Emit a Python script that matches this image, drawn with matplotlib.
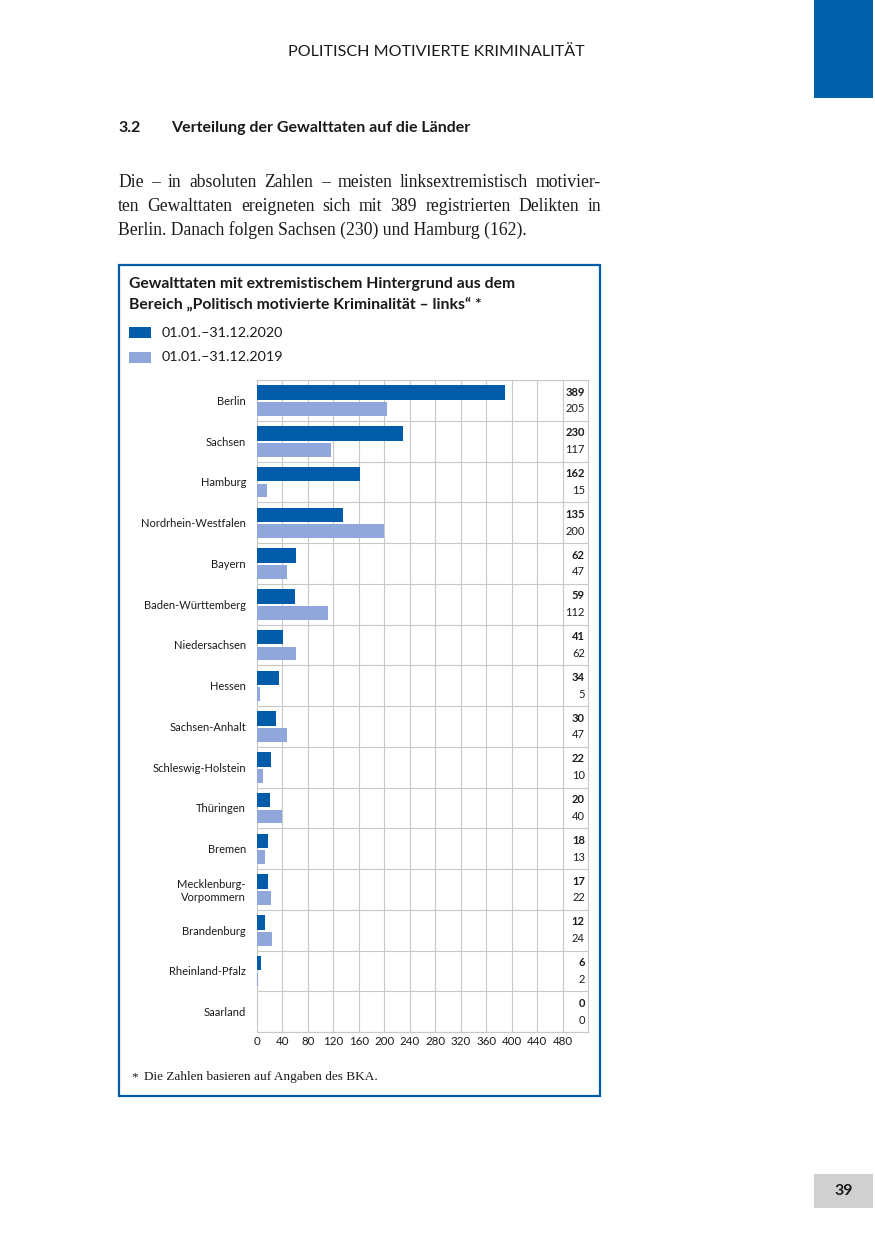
import numpy as np
import matplotlib
matplotlib.use("Agg")
import matplotlib.pyplot as plt
from matplotlib.patches import Rectangle

# data
laender = ["Berlin", "Sachsen", "Hamburg", "Nordrhein-Westfalen", "Bayern",
           "Baden-Württemberg", "Niedersachsen", "Hessen", "Sachsen-Anhalt",
           "Schleswig-Holstein", "Thüringen", "Bremen", "Mecklenburg-\nVorpommern",
           "Brandenburg", "Rheinland-Pfalz", "Saarland"]
werte_2020 = [389, 230, 162, 135, 62, 59, 41, 34, 30, 22, 20, 18, 17, 12, 6, 0]
werte_2019 = [205, 117, 15, 200, 47, 112, 62, 5, 47, 10, 40, 13, 22, 24, 2, 0]
x_ticks = list(range(0, 481, 40))
legende = ["01.01.–31.12.2020", "01.01.–31.12.2019"]

dunkel = "#005CA9"
hell = "#8FA7DA"
grau = "#c8c8c8"
sans = ["Lato", "DejaVu Sans"]
serif = ["Liberation Serif", "DejaVu Serif"]

W, H = 875, 1241
fig = plt.figure(figsize=(W / 100, H / 100), dpi=100)


def fx(x):
    return x / W


def fy(y):
    return 1 - y / H


def box(x0, y0, x1, y1, **kw):
    fig.patches.append(Rectangle((fx(x0), fy(y1)), fx(x1) - fx(x0), fy(y0) - fy(y1),
                                 transform=fig.transFigure, **kw))


# page decoration
box(814, 0, 873, 98, color="#0060AA", lw=0)
box(814, 1174, 873, 1208, color="#D0D0D0", lw=0)
fig.text(fx(843.5), fy(1191), "39", ha="center", va="center", fontsize=11.5,
         fontweight="bold", family=sans, color="#1a1a1a")

fig.text(fx(436), fy(52), "POLITISCH MOTIVIERTE KRIMINALITÄT", ha="center", va="center",
         fontsize=11.6, family=sans, color="#1a1a1a")
fig.text(fx(118), fy(128), "3.2", ha="left", va="center", fontsize=11.5,
         fontweight="bold", family=sans, color="#1a1a1a")
fig.text(fx(171), fy(128), "Verteilung der Gewalttaten auf die Länder", ha="left",
         va="center", fontsize=11.5, fontweight="bold", family=sans, color="#1a1a1a")

# justified paragraph
zeilen = ["Die – in absoluten Zahlen – meisten linksextremistisch motivier-",
          "ten Gewalttaten ereigneten sich mit 389 registrierten Delikten in",
          "Berlin. Danach folgen Sachsen (230) und Hamburg (162)."]
renderer = fig.canvas.get_renderer()
for k, zeile in enumerate(zeilen):
    y = fy(187 + 24 * k)
    if k == len(zeilen) - 1:
        fig.text(fx(118), y, zeile, ha="left", va="baseline", fontsize=12.7,
                 family=serif, color="#1a1a1a")
        continue
    woerter = zeile.split(" ")
    objs = [fig.text(0, y, w, ha="left", va="baseline", fontsize=12.7,
                     family=serif, color="#1a1a1a") for w in woerter]
    breiten = [o.get_window_extent(renderer).width for o in objs]
    luecke = (601 - 118 - sum(breiten)) / (len(woerter) - 1)
    x = 118
    for o, b in zip(objs, breiten):
        o.set_x(fx(x))
        x += b + luecke

# chart frame
box(119, 265, 600, 1096, fill=False, edgecolor=dunkel, lw=1.6)
fig.text(fx(129), fy(284), "Gewalttaten mit extremistischem Hintergrund aus dem",
         ha="left", va="center", fontsize=11.3, fontweight="bold", family=sans,
         color="#1a1a1a")
fig.text(fx(129), fy(305), "Bereich „Politisch motivierte Kriminalität – links“ *",
         ha="left", va="center", fontsize=11.3, fontweight="bold", family=sans,
         color="#1a1a1a")
box(129, 327, 151, 338, color=dunkel, lw=0)
box(129, 352, 151, 363, color=hell, lw=0)
fig.text(fx(162), fy(333), legende[0], ha="left", va="center", fontsize=10.4,
         family=sans, color="#1a1a1a")
fig.text(fx(162), fy(357), legende[1], ha="left", va="center", fontsize=10.4,
         family=sans, color="#1a1a1a")
fig.text(fx(131), fy(1077), "*", ha="left", va="center", fontsize=9.5,
         family=serif, color="#1a1a1a")
fig.text(fx(144), fy(1077), "Die Zahlen basieren auf Angaben des BKA.", ha="left",
         va="center", fontsize=9.5, family=serif, color="#1a1a1a")

# bar chart
ax = fig.add_axes([fx(257), fy(1032), fx(588) - fx(257), fy(380) - fy(1032)])
n = len(laender)
pos = np.arange(n)
ax.barh(pos - 0.19, werte_2020, height=0.36, color=dunkel, zorder=3)
ax.barh(pos + 0.21, werte_2019, height=0.34, color=hell, zorder=3)

for i in range(n):
    ax.text(515, i - 0.2, str(werte_2020[i]), ha="right", va="center", fontsize=8,
            fontweight="bold", family=sans, color="#1a1a1a")
    ax.text(515, i + 0.21, str(werte_2019[i]), ha="right", va="center", fontsize=8,
            family=sans, color="#1a1a1a")

ax.set_xlim(0, 520)
ax.set_ylim(n - 0.5, -0.5)
ax.set_xticks(x_ticks)
ax.set_xticklabels([str(t) for t in x_ticks], fontsize=8.3, family=sans, color="#1a1a1a")
ax.set_yticks(pos)
ax.set_yticklabels(laender, fontsize=8, family=sans, color="#1a1a1a")
ax.set_yticks(np.arange(-0.5, n, 1), minor=True)
ax.tick_params(axis="both", which="both", length=0)
ax.tick_params(axis="y", pad=8)
ax.tick_params(axis="x", pad=3)
ax.grid(axis="x", which="major", color=grau, lw=0.8, zorder=0)
ax.grid(axis="y", which="minor", color=grau, lw=0.8, zorder=0)
for s in ax.spines.values():
    s.set_color(grau)
    s.set_linewidth(0.8)

fig.savefig("out.png", dpi=100)
plt.close("all")
